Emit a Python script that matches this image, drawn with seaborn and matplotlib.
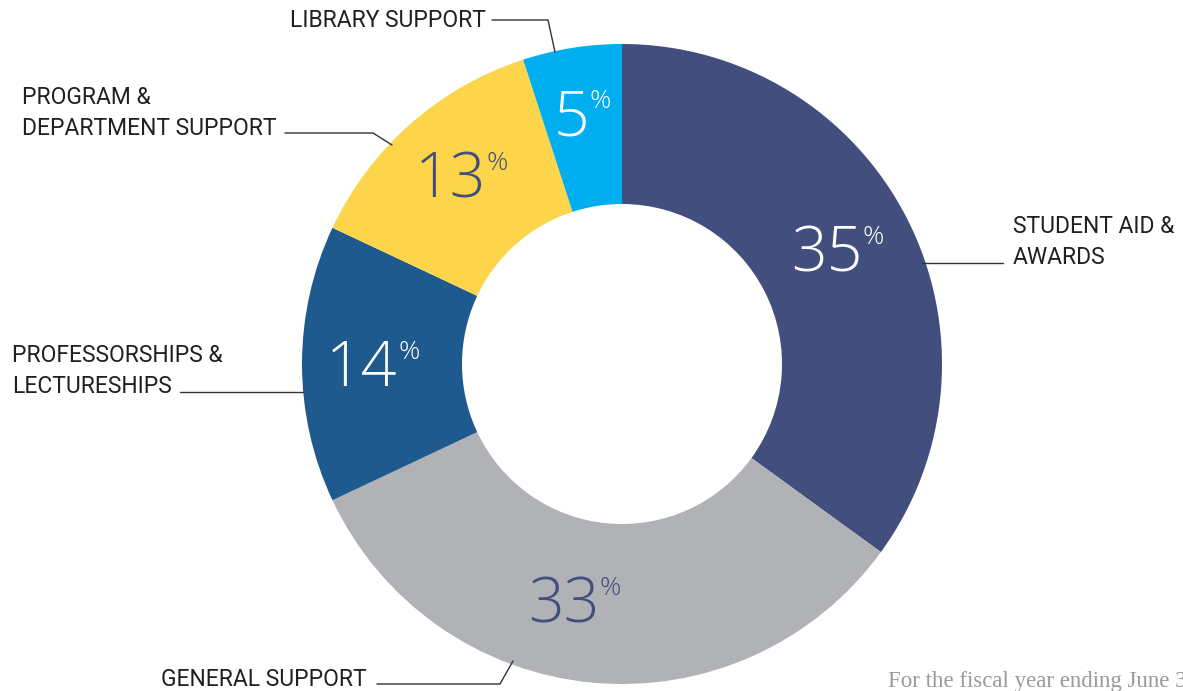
import numpy as np
import matplotlib
matplotlib.use('Agg')
import matplotlib.pyplot as plt
import seaborn as sns

# Data (clockwise from 12 o'clock)
categories = ['STUDENT AID &\nAWARDS', 'GENERAL SUPPORT', 'PROFESSORSHIPS &\nLECTURESHIPS',
              'PROGRAM &\nDEPARTMENT SUPPORT', 'LIBRARY SUPPORT']
shares = [35, 33, 14, 13, 5]
colors = ['#424E7D', '#B1B2B6', '#1F5A8E', '#FDD54B', '#00AEEF']
number_colors = ['white', '#424E7D', 'white', '#424E7D', 'white']
footnote = 'For the fiscal year ending June 30'

sns.set_theme(style='white')
plt.rcParams['font.family'] = ['Roboto', 'DejaVu Sans']

W, H = 1183, 691
fig = plt.figure(figsize=(W / 100, H / 100), dpi=100)
ax = fig.add_axes([0, 0, 1, 1])

cx, cy, r_out, r_in = 622, H - 364, 320, 160
wedges, _ = ax.pie(shares, colors=colors, startangle=90, counterclock=False,
                   center=(cx, cy), radius=r_out,
                   wedgeprops=dict(width=r_out - r_in, linewidth=0))
ax.set_xlim(0, W)
ax.set_ylim(0, H)
ax.set_aspect('equal')
ax.axis('off')

# percentage numbers centred (digits + %) in the middle of each ring segment
angle_shift = [1, -6, 0, -1, 0]
r_mid = [244, 241, 249, 248, 254]
num_font = dict(family=['Open Sans', 'DejaVu Sans'], fontweight=300)
fig.canvas.draw()
rend = fig.canvas.get_renderer()
for w, val, col, sh, rm in zip(wedges, shares, number_colors, angle_shift, r_mid):
    ang = np.deg2rad((w.theta1 + w.theta2) / 2 + sh)
    x, y = cx + rm * np.cos(ang), cy + rm * np.sin(ang)
    t = ax.text(0, 0, str(val), color=col, fontsize=45, ha='left', va='baseline', **num_font)
    p = ax.text(0, 0, '%', color=col, fontsize=19, ha='left', va='top', **num_font)
    wn = t.get_window_extent(rend).width
    wp = p.get_window_extent(rend).width
    gap = 0.5
    x0 = x - (wn + wp + gap) / 2
    cap = 45 * 100 / 72 * 0.714
    t.set_position((x0, y - cap / 2))
    p.set_position((x0 + wn + gap, y + cap / 2 + 2))

# category labels with leader lines (pixel positions, y from top)
def px(y):
    return H - y

label_col = '#231F20'
line_col = '#333333'
fs = 16.5
lab = dict(fontsize=fs, color=label_col, ha='left', va='center', linespacing=1.45)
ax.text(290, px(20), categories[4], **lab)
ax.plot([492, 548, 555], [px(20), px(20), px(52)], color=line_col, lw=1)

ax.text(22, px(113), categories[3], **lab)
ax.plot([285, 373, 392], [px(133), px(133), px(145)], color=line_col, lw=1)

ax.text(1013, px(242), categories[0], **lab)
ax.plot([922, 1003], [px(263), px(263)], color=line_col, lw=1)

ax.text(12, px(371), categories[2], **lab)
ax.plot([180, 303], [px(392), px(392)], color=line_col, lw=1)

ax.text(161, px(679), categories[1], **lab)
ax.plot([377, 500, 513], [px(684), px(684), px(661)], color=line_col, lw=1)

# footnote runs off the right edge, as in the original
ax.text(888, px(687), footnote, fontsize=16.5, color='#9A9A9A', ha='left', va='baseline',
        family=['Liberation Serif', 'DejaVu Serif'])

fig.savefig('out.png', dpi=100)
